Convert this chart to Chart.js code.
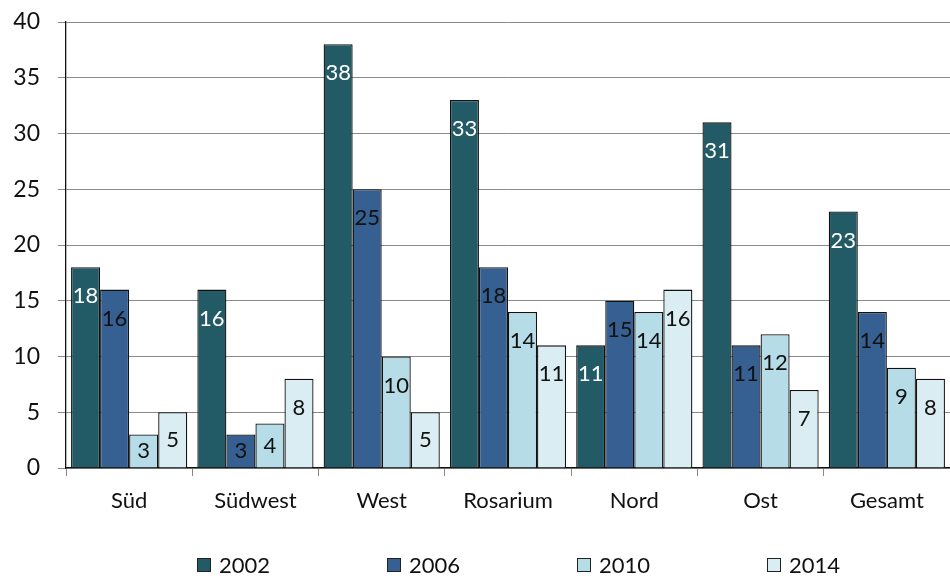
<!DOCTYPE html>
<html>
<head>
<meta charset="utf-8">
<script src="https://cdn.jsdelivr.net/npm/chart.js@4"></script>
<style>
  html, body { margin: 0; padding: 0; background: #fff; }
  #wrap { width: 950px; height: 576px; }
</style>
</head>
<body>
<div id="wrap"><canvas id="mychart" width="950" height="576"></canvas></div>
<script>
const categories = ["Süd", "Südwest", "West", "Rosarium", "Nord", "Ost", "Gesamt"];
const years = ["2002", "2006", "2010", "2014"];
const values2002 = [18, 16, 38, 33, 11, 31, 23];
const values2006 = [16, 3, 25, 18, 15, 11, 14];
const values2010 = [3, 4, 10, 14, 14, 12, 9];
const values2014 = [5, 8, 5, 11, 16, 7, 8];
const yTicks = [0, 5, 10, 15, 20, 25, 30, 35, 40];

const colors = ["#225a65", "#365f92", "#b6dce7", "#daedf3"];
const labelColors = ["#ffffff", "#111111", "#111111", "#111111"];
const FONT = "Lato, 'Open Sans', sans-serif";

const ctx = document.getElementById("mychart").getContext("2d");

const seriesValues = [values2002, values2006, values2010, values2014];

const data = {
  labels: categories,
  datasets: years.map((y, i) => ({
    label: y,
    data: seriesValues[i],
    backgroundColor: colors[i],
    borderColor: "#111",
    borderWidth: 1.3,
    barPercentage: 1,
    categoryPercentage: 0.92,
  })),
};

// value labels inside bar tops
const barLabels = {
  id: "barLabels",
  afterDatasetsDraw(chart) {
    const c = chart.ctx;
    c.save();
    c.font = "22px " + FONT;
    c.textAlign = "center";
    c.textBaseline = "middle";
    chart.data.datasets.forEach((ds, i) => {
      chart.getDatasetMeta(i).data.forEach((bar, j) => {
        const top = bar.y;
        const bottom = bar.base;
        const yPos = Math.min(top + 29, (top + bottom) / 2);
        c.fillStyle = labelColors[i];
        c.fillText(String(ds.data[j]), bar.x, yPos);
      });
    });
    c.restore();
  },
};

// legend drawn along the bottom
const bottomLegend = {
  id: "bottomLegend",
  afterDraw(chart) {
    const c = chart.ctx;
    c.save();
    c.font = "22px " + FONT;
    c.textBaseline = "middle";
    c.textAlign = "left";
    const y = 565;
    chart.data.datasets.forEach((ds, i) => {
      const x = 197 + i * 190;
      c.fillStyle = ds.backgroundColor;
      c.fillRect(x, y - 7, 14, 14);
      c.strokeStyle = "#222";
      c.lineWidth = 1;
      c.strokeRect(x + 0.5, y - 6.5, 13, 13);
      c.fillStyle = "#111";
      c.fillText(ds.label, x + 22, y + 1);
    });
    c.restore();
  },
};

const config = {
  type: "bar",
  data: data,
  plugins: [barLabels, bottomLegend],
  options: {
    responsive: false,
    animation: false,
    layout: { padding: { top: 0, right: 0, left: 0, bottom: 0 } },
    plugins: {
      legend: { display: false },
      tooltip: { enabled: false },
    },
    scales: {
      x: {
        grid: {
          drawOnChartArea: false,
          drawTicks: true,
          tickLength: 8,
          color: "#888",
          offset: true,
        },
        border: { color: "#111", width: 1.3 },
        ticks: {
          color: "#111",
          padding: 12,
          font: { family: FONT, size: 22 },
        },
        afterFit(scale) {
          scale.height = 108;
        },
      },
      y: {
        min: 0,
        max: 40,
        afterBuildTicks(scale) {
          scale.ticks = yTicks.map((v) => ({ value: v }));
        },
        grid: {
          color: "#8a8a8a",
          lineWidth: 1,
          tickLength: 8,
        },
        border: { color: "#111", width: 1.3 },
        ticks: {
          color: "#111",
          padding: 18,
          font: { family: FONT, size: 23, lineHeight: 1 },
        },
        afterFit(scale) {
          scale.width = 66;
          scale.paddingTop = 22;
        },
      },
    },
  },
};

const myChart = new Chart(ctx, config);
</script>
</body>
</html>
